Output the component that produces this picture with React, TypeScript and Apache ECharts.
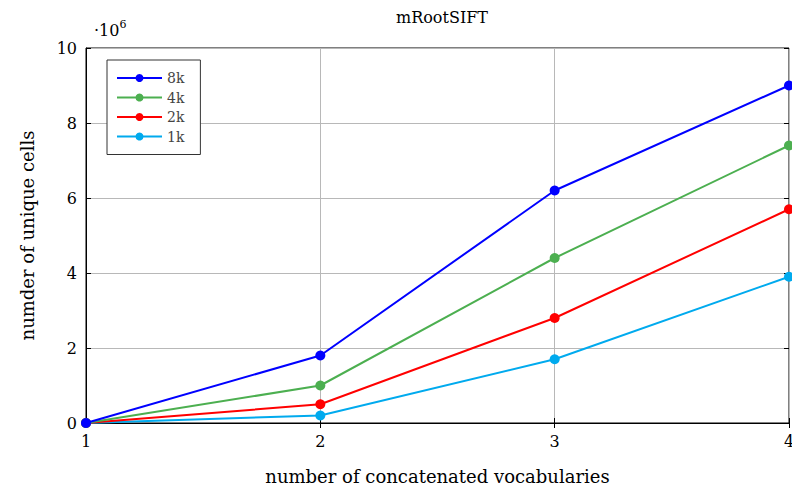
import React, { useEffect, useRef } from "react";
import * as echarts from "echarts";

const vocabCounts = [1, 2, 3, 4];
const series8k = [0, 1.8, 6.2, 9.0];
const series4k = [0, 1.0, 4.4, 7.4];
const series2k = [0, 0.5, 2.8, 5.7];
const series1k = [0, 0.2, 1.7, 3.9];
const seriesNames = ["8k", "4k", "2k", "1k"];
const seriesColors = ["#0000ff", "#4caf50", "#ff0000", "#00aaee"];

const FONT = "'DejaVu Serif', serif";

export default function App() {
  const ref = useRef<HTMLDivElement>(null);
  useEffect(() => {
    if (!ref.current) return;
    const chart = echarts.init(ref.current, undefined, { renderer: "svg" });
    const all = [series8k, series4k, series2k, series1k];
    chart.setOption({
      animation: false,
      backgroundColor: "#ffffff",
      title: {
        text: "mRootSIFT",
        left: 437,
        top: 4,
        textAlign: "center",
        textStyle: { fontFamily: FONT, fontSize: 16, fontWeight: "normal", color: "#000" },
      },
      graphic: [
        {
          type: "text",
          left: 94,
          top: 19,
          style: {
            text: "{a|·10}{b|6}",
            rich: {
              a: { fontFamily: FONT, fontSize: 16, fill: "#000", verticalAlign: "bottom" },
              b: { fontFamily: FONT, fontSize: 11, fill: "#000", verticalAlign: "top", padding: [0, 0, 8, 0] },
            },
          },
        },
      ],
      legend: {
        orient: "vertical",
        left: 107,
        top: 60,
        itemWidth: 45,
        itemHeight: 10,
        itemGap: 5.5,
        padding: [11, 16, 11, 9],
        borderColor: "#333",
        borderWidth: 1,
        backgroundColor: "#fff",
        data: seriesNames,
        textStyle: { fontFamily: FONT, fontSize: 14, color: "#444", lineHeight: 14 },
      },
      grid: { left: 86, right: 3, top: 48, bottom: 63, show: true, borderColor: "#000", borderWidth: 1, outerBoundsMode: "none", containLabel: false },
      xAxis: [
        {
          type: "value",
          min: 1,
          max: 4,
          interval: 1,
          name: "number of concatenated vocabularies",
          nameLocation: "middle",
          nameGap: 44,
          nameTextStyle: { fontFamily: FONT, fontSize: 18, color: "#000" },
          axisLine: { show: true, lineStyle: { color: "#000" } },
          axisTick: { show: true, inside: true, length: 5, lineStyle: { color: "#000" } },
          axisLabel: { fontFamily: FONT, fontSize: 16, color: "#000", margin: 10 },
          splitLine: { show: true, lineStyle: { color: "#b8b8b8", width: 1 } },
        },
        {
          type: "value",
          position: "top",
          min: 1,
          max: 4,
          interval: 1,
          axisLine: { show: false },
          axisTick: { show: true, inside: true, length: 5, lineStyle: { color: "#000" } },
          axisLabel: { show: false },
          splitLine: { show: false },
        },
      ],
      yAxis: [
        {
          type: "value",
          min: 0,
          max: 10,
          interval: 2,
          name: "numder of unique cells",
          nameLocation: "middle",
          nameGap: 50,
          nameTextStyle: { fontFamily: FONT, fontSize: 18, color: "#000" },
          axisLine: { show: true, lineStyle: { color: "#000" } },
          axisTick: { show: true, inside: true, length: 5, lineStyle: { color: "#000" } },
          axisLabel: { fontFamily: FONT, fontSize: 16, color: "#000", margin: 9 },
          splitLine: { show: true, lineStyle: { color: "#b8b8b8", width: 1 } },
        },
        {
          type: "value",
          position: "right",
          min: 0,
          max: 10,
          interval: 2,
          axisLine: { show: false },
          axisTick: { show: true, inside: true, length: 5, lineStyle: { color: "#000" } },
          axisLabel: { show: false },
          splitLine: { show: false },
        },
      ],
      series: all.map((vals, i) => ({
        name: seriesNames[i],
        type: "line",
        data: vals.map((v, j) => [vocabCounts[j], v]),
        symbol: "circle",
        symbolSize: 10,
        showSymbol: true,
        clip: false,
        z: 10 - i,
        lineStyle: { color: seriesColors[i], width: 2 },
        itemStyle: { color: seriesColors[i] },
      })),
    });
    return () => chart.dispose();
  }, []);
  return <div ref={ref} style={{ width: 792, height: 486, position: "absolute", left: 0, top: 0 }} />;
}
